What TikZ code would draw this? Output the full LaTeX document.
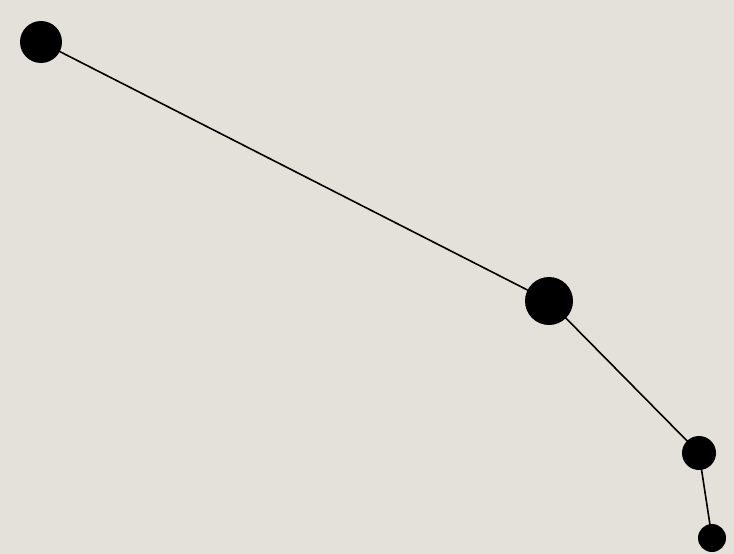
\documentclass[tikz,border=0pt]{standalone}
\begin{document}
\begin{tikzpicture}[x=1pt,y=-1pt,
  dot/.style={circle,fill=black,inner sep=0pt,minimum size=#1},
  link/.style={draw=black,line width=1.6pt}]
\fill[fill={rgb,255:red,228;green,225;blue,218}] (0,0) rectangle (734,554);
\useasboundingbox (0,0) rectangle (734,554);
\node[dot=42pt] (a) at (41,42) {};
\node[dot=48pt] (b) at (549,301) {};
\node[dot=34pt] (c) at (699,453) {};
\node[dot=28pt] (d) at (712,538) {};
\draw[link] (a.center) -- (b.center) -- (c.center) -- (d.center);
\end{tikzpicture}
\end{document}
